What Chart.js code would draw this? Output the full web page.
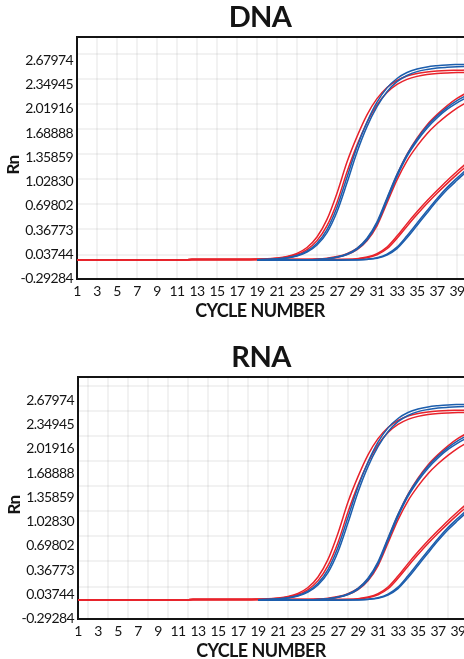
<!DOCTYPE html>
<html>
<head>
<meta charset="utf-8">
<script src="https://cdn.jsdelivr.net/npm/chart.js@4.4.1/dist/chart.umd.min.js"></script>
<style>
  html, body { margin: 0; padding: 0; background: #fff; overflow: hidden; }
  body { width: 464px; height: 659px; position: relative; }
  canvas { position: absolute; }
  #dna-chart { top: 0; left: 0; }
  #rna-chart { top: 340px; left: 1px; }
</style>
</head>
<body>
<canvas id="dna-chart" width="520" height="330"></canvas>
<canvas id="rna-chart" width="520" height="330"></canvas>
<script>
// amplification plot data (Rn per cycle)
const cycles = [1,2,3,4,5,6,7,8,9,10,11,12,13,14,15,16,17,18,19,20,21,22,23,24,25,26,27,28,29,30,31,32,33,34,35,36,37,38,39,40];
const blueCycles = cycles.slice(18); // blue wells are recorded from cycle 19

const xTicks = [1,3,5,7,9,11,13,15,17,19,21,23,25,27,29,31,33,35,37,39];
const yTicks = [-0.29284, 0.03744, 0.36773, 0.69802, 1.02830, 1.35859, 1.68888, 2.01916, 2.34945, 2.67974];

const dnaGridCycles = [1,3,5,7,9,11,13,15,17,19,21,23,25,27,29,31,33,35,37,39];
const rnaGridCycles = [2,4,6,8,10,12,14,16,18,20,22,24,26,28,30,32,34,36,38,40];
const dnaGridLevels = [0.033, 0.375, 0.717, 1.059, 1.401, 1.743, 2.085, 2.427, 2.769];
const rnaGridLevels = [0.142, 0.484, 0.826, 1.168, 1.510, 1.852, 2.194, 2.536, 2.878];

// red wells, cycles 1-40
const redA1 = [-0.039,-0.039,-0.039,-0.038,-0.038,-0.038,-0.037,-0.037,-0.037,-0.036,-0.036,-0.036,-0.035,-0.035,-0.035,-0.034,-0.034,-0.034,
  -0.030,-0.024,-0.013,0.008,0.050,0.129,0.273,0.513,0.870,1.294,1.640,1.937,2.157,2.310,2.405,2.465,2.501,2.522,2.534,2.541,2.544,2.547];
const redA2 = [-0.039,-0.039,-0.039,-0.038,-0.038,-0.038,-0.037,-0.037,-0.037,-0.036,-0.036,-0.036,-0.035,-0.035,-0.035,-0.034,-0.034,-0.034,
  -0.031,-0.026,-0.017,0.001,0.034,0.102,0.223,0.427,0.744,1.158,1.524,1.833,2.073,2.241,2.351,2.420,2.461,2.485,2.500,2.508,2.513,2.516];
const redB1 = [-0.039,-0.039,-0.039,-0.038,-0.038,-0.038,-0.037,-0.037,-0.037,-0.036,-0.036,-0.036,-0.035,-0.035,-0.035,-0.034,-0.034,-0.034,-0.034,-0.034,-0.034,-0.034,-0.034,
  -0.033,-0.028,-0.016,0.006,0.045,0.118,0.245,0.460,0.790,1.120,1.400,1.620,1.800,1.940,2.060,2.160,2.240];
const redB2 = [-0.039,-0.039,-0.039,-0.038,-0.038,-0.038,-0.037,-0.037,-0.037,-0.036,-0.036,-0.036,-0.035,-0.035,-0.035,-0.034,-0.034,-0.034,-0.034,-0.034,-0.034,-0.034,-0.034,
  -0.034,-0.031,-0.022,-0.003,0.032,0.100,0.222,0.425,0.735,1.050,1.310,1.510,1.680,1.815,1.930,2.030,2.110];
const redC1 = [-0.039,-0.039,-0.039,-0.038,-0.038,-0.038,-0.037,-0.037,-0.037,-0.036,-0.036,-0.036,-0.035,-0.035,-0.035,-0.034,-0.034,-0.034,-0.034,-0.034,-0.034,-0.034,-0.034,-0.034,-0.034,-0.034,-0.034,
  -0.032,-0.022,0.000,0.045,0.135,0.285,0.455,0.615,0.765,0.905,1.040,1.165,1.285];
const redC2 = [-0.039,-0.039,-0.039,-0.038,-0.038,-0.038,-0.037,-0.037,-0.037,-0.036,-0.036,-0.036,-0.035,-0.035,-0.035,-0.034,-0.034,-0.034,-0.034,-0.034,-0.034,-0.034,-0.034,-0.034,-0.034,-0.034,-0.034,
  -0.033,-0.026,-0.010,0.030,0.112,0.255,0.420,0.578,0.728,0.868,1.000,1.125,1.245];

// blue wells, cycles 19-40
const blueA1 = [-0.037,-0.032,-0.024,-0.009,0.021,0.079,0.187,0.374,0.678,1.087,1.498,1.837,2.109,2.304,2.432,2.513,2.561,2.590,2.606,2.617,2.622,2.625];
const blueA2 = [-0.037,-0.033,-0.026,-0.013,0.014,0.066,0.163,0.332,0.617,1.011,1.428,1.776,2.048,2.252,2.389,2.473,2.526,2.555,2.574,2.584,2.591,2.595];
const blueB1 = [-0.040,-0.041,-0.041,-0.041,-0.040,-0.038,-0.033,-0.022,0.001,0.042,0.118,0.255,0.480,0.805,1.125,1.395,1.605,1.780,1.920,2.035,2.130,2.205];
const blueB2 = [-0.041,-0.042,-0.042,-0.042,-0.041,-0.040,-0.035,-0.025,-0.004,0.034,0.105,0.232,0.450,0.770,1.095,1.370,1.580,1.755,1.895,2.010,2.100,2.175];
const blueC1 = [-0.041,-0.042,-0.042,-0.043,-0.043,-0.043,-0.043,-0.043,-0.042,-0.041,-0.038,-0.030,-0.010,0.040,0.135,0.290,0.460,0.630,0.795,0.945,1.075,1.200];
const blueC2 = [-0.042,-0.043,-0.043,-0.044,-0.044,-0.044,-0.044,-0.044,-0.043,-0.042,-0.040,-0.033,-0.016,0.028,0.115,0.262,0.430,0.600,0.765,0.915,1.045,1.170];

const RED = '#e8222b';
const BLUE = '#1d5ead';
const INK = '#141414';
const GRID = 'rgba(0, 0, 0, 0.05)';

// slightly condensed lettering for every label on the canvas
const tightText = {
    id: 'tightText',
    beforeDraw(chart) {
        chart.ctx.letterSpacing = '-0.6px';
    }
};

function toPoints(xs, ys) {
    return ys.map((y, i) => ({ x: xs[i], y: y }));
}

function makeDatasets() {
    const sets = [];
    // blue first so it is painted over the red wells
    [blueA1, blueA2, blueB1, blueB2, blueC1, blueC2].forEach(vals => {
        sets.push({ data: toPoints(blueCycles, vals), borderColor: BLUE, xAxisID: 'x', yAxisID: 'y' });
    });
    [redA1, redA2, redB1, redB2, redC1, redC2].forEach(vals => {
        sets.push({ data: toPoints(cycles, vals), borderColor: RED, xAxisID: 'x', yAxisID: 'y' });
    });
    return sets;
}

function drawPanel(canvasId, titleText, gridCycles, gridLevels) {
    const ctx = document.getElementById(canvasId).getContext('2d');
    return new Chart(ctx, {
        type: 'line',
        data: { datasets: makeDatasets() },
        plugins: [tightText],
        options: {
            responsive: false,
            animation: false,
            devicePixelRatio: 1,
            layout: { padding: 0 },
            elements: {
                point: { radius: 0 },
                line: { borderWidth: 1.5, cubicInterpolationMode: 'monotone', fill: false }
            },
            plugins: {
                legend: { display: false },
                tooltip: { enabled: false },
                title: {
                    display: true,
                    text: titleText,
                    color: INK,
                    font: { family: 'Lato', size: 29, weight: 'bold' },
                    padding: { top: 0, bottom: 2 }
                },
                subtitle: {
                    display: true,
                    position: 'bottom',
                    text: 'CYCLE NUMBER',
                    color: INK,
                    font: { family: 'Lato', size: 18, weight: 'bold' },
                    padding: { top: 0, bottom: 8 }
                }
            },
            scales: {
                x: {
                    type: 'linear',
                    min: 1,
                    max: 40,
                    afterBuildTicks: scale => { scale.ticks = xTicks.map(v => ({ value: v })); },
                    afterFit: scale => { scale.height = 21; },
                    ticks: {
                        color: INK,
                        font: { family: 'Lato', size: 14 },
                        padding: 4,
                        maxRotation: 0,
                        autoSkip: false
                    },
                    grid: { drawOnChartArea: false, drawTicks: false },
                    border: { color: INK, width: 2 }
                },
                xGrid: {
                    type: 'linear',
                    position: 'top',
                    min: 1,
                    max: 40,
                    afterBuildTicks: scale => { scale.ticks = gridCycles.map(v => ({ value: v })); },
                    ticks: { display: false },
                    grid: { color: GRID, lineWidth: 2, drawTicks: false },
                    border: { color: INK, width: 2 }
                },
                // full-height box on the far left that only carries the Rn caption
                yCaption: {
                    type: 'linear',
                    position: 'left',
                    fullSize: true,
                    weight: 5,
                    min: 0,
                    max: 1,
                    afterFit: scale => { scale.width = 21; },
                    ticks: { display: false },
                    grid: { display: false, drawTicks: false },
                    border: { display: false },
                    title: {
                        display: true,
                        text: 'Rn',
                        color: INK,
                        font: { family: 'Lato', size: 17, weight: 'bold' },
                        padding: { top: 3, bottom: 0 }
                    }
                },
                y: {
                    type: 'linear',
                    position: 'left',
                    weight: 0,
                    min: -0.305,
                    max: 3.0,
                    afterBuildTicks: scale => { scale.ticks = yTicks.map(v => ({ value: v })); },
                    afterFit: scale => { scale.width = 56; },
                    ticks: {
                        color: INK,
                        font: { family: 'Lato', size: 14 },
                        padding: 4,
                        autoSkip: false,
                        callback: v => v.toFixed(5)
                    },
                    grid: { drawOnChartArea: false, drawTicks: false },
                    border: { color: INK, width: 2 }
                },
                yGrid: {
                    type: 'linear',
                    position: 'right',
                    min: -0.305,
                    max: 3.0,
                    afterBuildTicks: scale => { scale.ticks = gridLevels.map(v => ({ value: v })); },
                    afterFit: scale => { scale.width = 53; },
                    ticks: { display: false },
                    grid: { color: GRID, lineWidth: 2, drawTicks: false },
                    border: { display: false }
                }
            }
        }
    });
}

drawPanel('dna-chart', 'DNA', dnaGridCycles, dnaGridLevels);
drawPanel('rna-chart', 'RNA', rnaGridCycles, rnaGridLevels);
</script>
</body>
</html>
